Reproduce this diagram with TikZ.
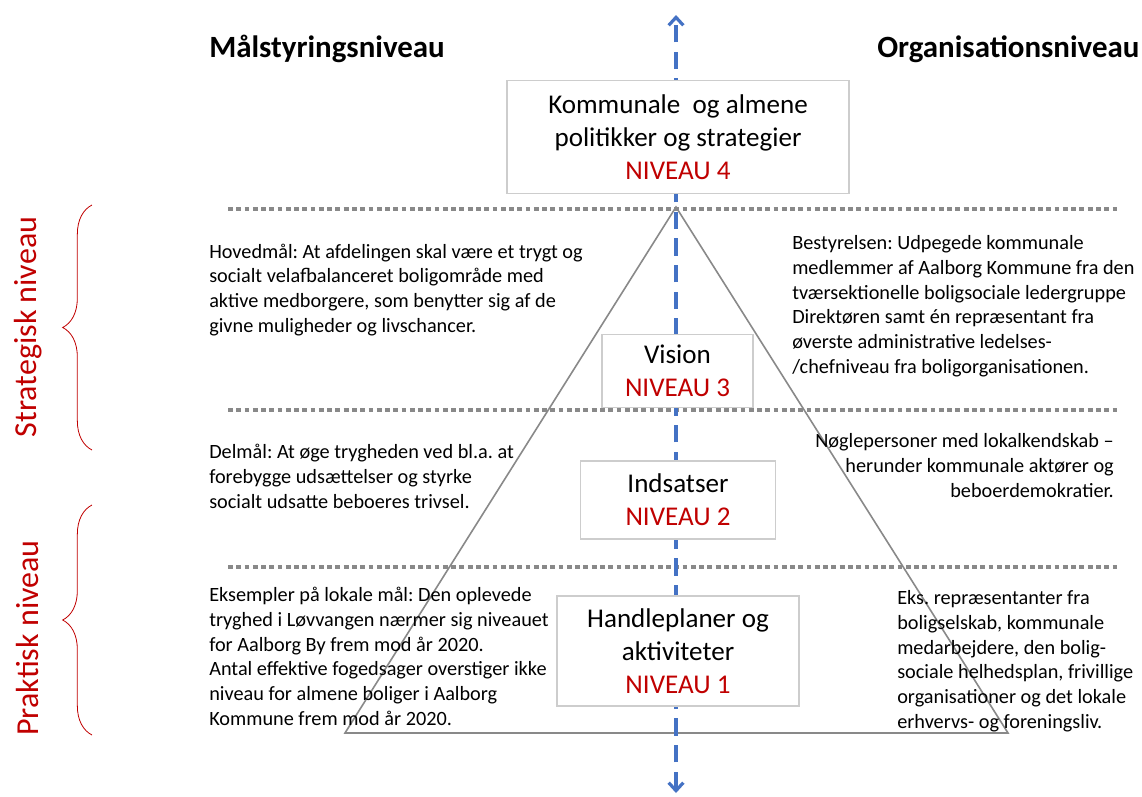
\documentclass[tikz,border=0pt]{standalone}
\usepackage{fontspec}
\setmainfont{Carlito}
\usepackage{tikz}
\usetikzlibrary{arrows.meta, decorations.pathreplacing, positioning}
\definecolor{nivred}{RGB}{192,0,0}
\definecolor{axisblue}{RGB}{68,114,196}
\definecolor{linegray}{RGB}{137,137,137}
\definecolor{boxgray}{RGB}{205,205,205}
\frenchspacing

\begin{document}
\begin{tikzpicture}[
    x=0.75pt, y=-0.75pt,
    every node/.style={align=center, inner sep=0pt},
    levelbox/.style={draw=boxgray, fill=white, line width=0.8pt, font=\fontsize{20.3}{24.7}\selectfont},
    notetext/.style={align=left, font=\fontsize{15.2}{18.5}\selectfont},
    heading/.style={anchor=base west, font=\fontsize{23.2}{27}\selectfont\bfseries},
    sidelabel/.style={text=nivred, rotate=90, font=\fontsize{24}{28}\selectfont},
    sepline/.style={draw=linegray, line width=3pt, dash pattern=on 3.6pt off 2.6pt},
    midaxis/.style={draw=axisblue, line width=2.4pt, dash pattern=on 13pt off 7pt,
        {Straight Barb[length=6pt, width=11pt]}-{Straight Barb[length=6pt, width=11pt]}},
    bracket/.style={draw=nivred, line width=0.6pt, decorate, decoration={brace, amplitude=22pt}}
]
    \useasboundingbox (0,0) rectangle (1142,796);

    % Headings
    \node[heading] (maal) at (209,57) {Målstyringsniveau};
    \node[heading] (org) at (877,57) {Organisationsniveau};

    % Separators
    \foreach \y in {209, 410, 567}
        \draw[sepline] (228,\y) -- (1120,\y);

    % Pyramid
    \coordinate (apex) at (676,207);
    \coordinate (baseL) at (345,733);
    \coordinate (baseR) at (1008,733);
    \draw[linegray, line width=1.2pt] (apex) -- (baseL) -- (baseR) -- cycle;

    % Axis
    \coordinate (axtop) at (676,15);
    \coordinate (axbot) at (676,793);
    \draw[midaxis] (axbot) -- (axtop);

    % Levels
    \node[levelbox, minimum width=256.5pt, minimum height=84.75pt] (niv4) at (678,137)
        {Kommunale~ og almene\\politikker og strategier\\\textcolor{nivred}{NIVEAU 4}};
    \node[levelbox, minimum width=113.25pt, minimum height=54.75pt] (niv3) at (677.5,371)
        {Vision\\\textcolor{nivred}{NIVEAU 3}};
    \node[levelbox, minimum width=146.25pt, minimum height=58.5pt] (niv2) at (678,500)
        {Indsatser\\\textcolor{nivred}{NIVEAU 2}};
    \node[levelbox, minimum width=181.5pt, minimum height=82.5pt] (niv1) at (678,651)
        {Handleplaner og\\aktiviteter\\\textcolor{nivred}{NIVEAU 1}};

    % Goals (left), placed at the baseline of the last line
    \node[notetext, anchor=base west] (hoved) at (209,332)
        {Hovedmål: At afdelingen skal være et trygt og\\socialt velafbalanceret boligområde med\\aktive medborgere, som benytter sig af de\\givne muligheder og livschancer.};
    \node[notetext, anchor=base west] (delmaal) at (209,508)
        {Delmål: At øge trygheden ved bl.a. at\\forebygge udsættelser og styrke\\socialt udsatte beboeres trivsel.};
    \node[notetext, anchor=base west] (lokal) at (209,725)
        {Eksempler på lokale mål: Den oplevede\\tryghed i Løvvangen nærmer sig niveauet\\for Aalborg By frem mod år 2020.\\Antal effektive fogedsager overstiger ikke\\niveau for almene boliger i Aalborg\\Kommune frem mod år 2020.};

    % Organisation (right)
    \node[notetext, anchor=base west] (bestyr) at (792,373)
        {Bestyrelsen: Udpegede kommunale\\medlemmer af Aalborg Kommune fra den\\tværsektionelle boligsociale ledergruppe\\Direktøren samt én repræsentant fra\\øverste administrative ledelses-\\/chefniveau fra boligorganisationen.};
    \node[notetext, align=right, anchor=base east] (noegle) at (1114,497)
        {Nøglepersoner med lokalkendskab –\\herunder kommunale aktører og\\beboerdemokratier.};
    \node[notetext, anchor=base west] (eks) at (897,728)
        {Eks. repræsentanter fra\\boligselskab, kommunale\\medarbejdere, den bolig-\\sociale helhedsplan, frivillige\\organisationer og det lokale\\erhvervs- og foreningsliv.};

    % Side labels
    \draw[bracket] (92,450) -- (92,205);
    \draw[bracket] (92,735) -- (92,505);
    \node[sidelabel] (strat) at (28,327) {Strategisk niveau};
    \node[sidelabel] (prakt) at (28,638) {Praktisk niveau};
\end{tikzpicture}
\end{document}
